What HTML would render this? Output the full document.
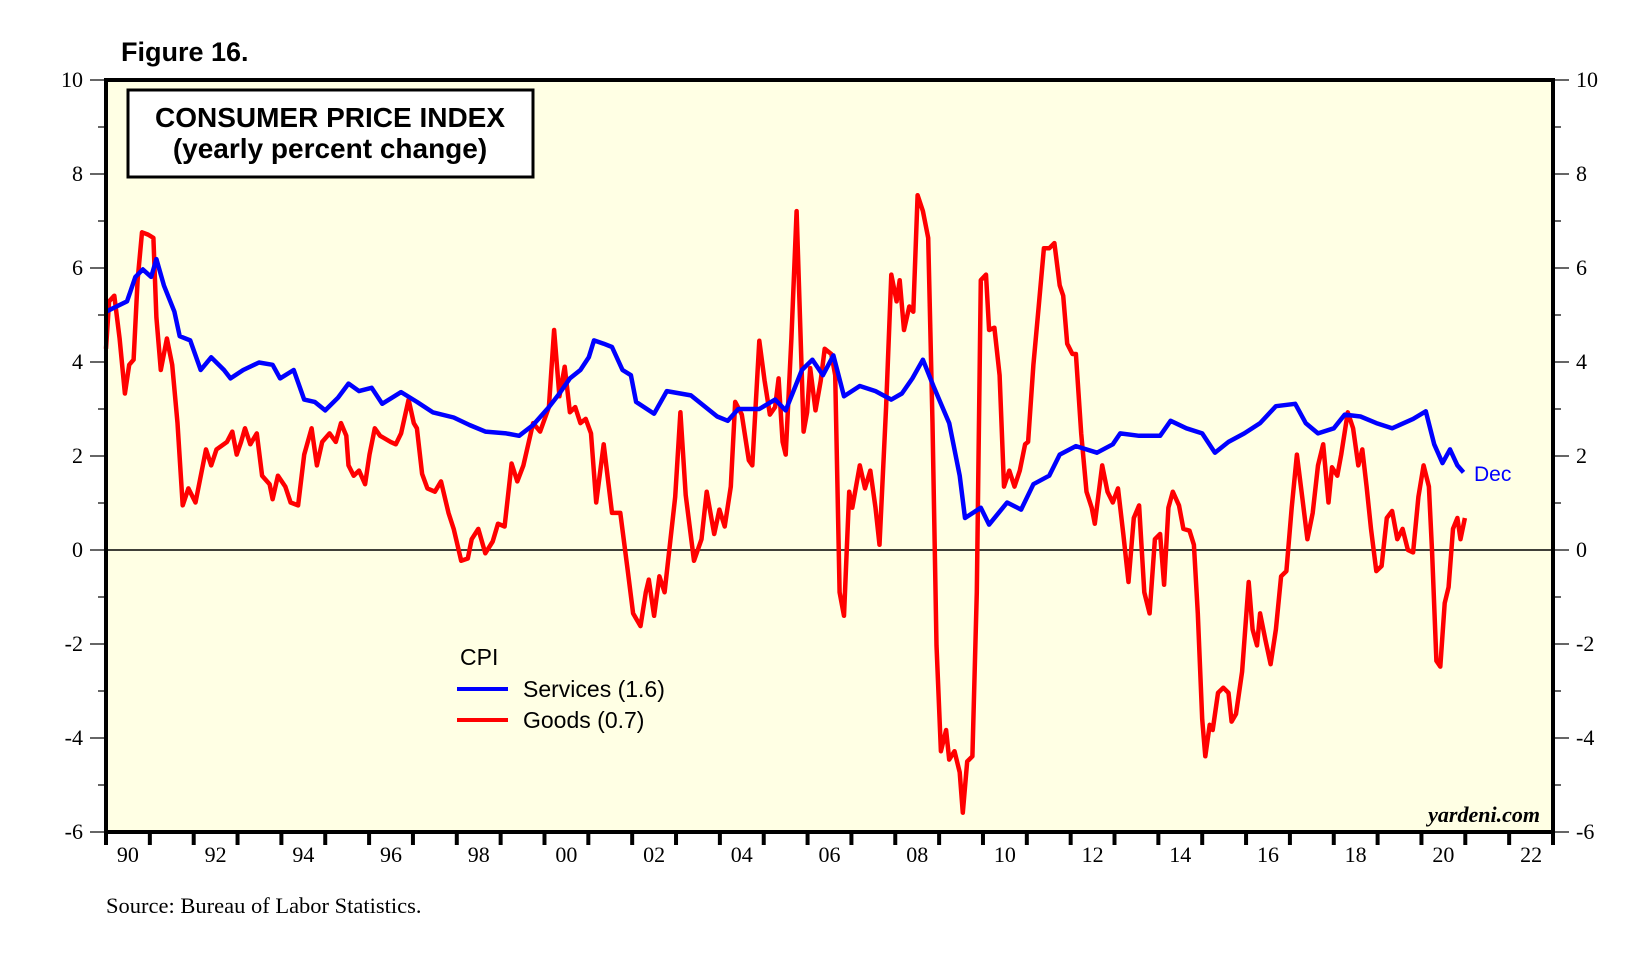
<!DOCTYPE html>
<html><head><meta charset="utf-8"><style>
body{margin:0;background:#fff;width:1648px;height:962px;overflow:hidden}
svg{display:block}
</style></head><body>
<svg id="chart" width="1648" height="962" viewBox="0 0 1648 962" xmlns="http://www.w3.org/2000/svg">
<text x="121" y="61" font-family="Liberation Sans, sans-serif" font-weight="bold" font-size="27">Figure 16.</text>
<rect x="106" y="80" width="1447" height="752" fill="#FFFFE4"/>
<g id="grid"></g>
<g id="series"></g>
<rect x="106" y="80" width="1447" height="752" fill="none" stroke="#000" stroke-width="4"/>
<g id="axes"></g>
<rect x="128" y="90" width="405" height="87" fill="#fff" stroke="#000" stroke-width="3"/>
<text x="330" y="127" text-anchor="middle" font-family="Liberation Sans, sans-serif" font-weight="bold" font-size="28">CONSUMER PRICE INDEX</text>
<text x="330" y="158" text-anchor="middle" font-family="Liberation Sans, sans-serif" font-weight="bold" font-size="28">(yearly percent change)</text>
<g>
<text x="460" y="665" font-family="Liberation Sans, sans-serif" font-size="23">CPI</text>
<line x1="457" y1="689" x2="508" y2="689" stroke="#0000FF" stroke-width="4"/>
<text x="523" y="697" font-family="Liberation Sans, sans-serif" font-size="23">Services (1.6)</text>
<line x1="457" y1="720" x2="508" y2="720" stroke="#FF0000" stroke-width="4"/>
<text x="523" y="728" font-family="Liberation Sans, sans-serif" font-size="23">Goods (0.7)</text>
</g>
<text x="1474" y="481" fill="#0000FF" font-family="Liberation Sans, sans-serif" font-size="21">Dec</text>
<text x="1540" y="822" text-anchor="end" font-family="Liberation Serif, serif" font-style="italic" font-weight="bold" font-size="22">yardeni.com</text>
<text x="106" y="913" font-family="Liberation Serif, serif" font-size="22.5">Source: Bureau of Labor Statistics.</text>
</svg>
<script>
const servicesYears=[1990.00,1990.24,1990.48,1990.67,1990.84,1991.03,1991.15,1991.32,1991.56,1991.68,1991.92,1992.16,1992.40,1992.69,1992.84,1993.13,1993.49,1993.80,1993.97,1994.28,1994.52,1994.76,1995.00,1995.29,1995.53,1995.77,1996.06,1996.30,1996.73,1997.09,1997.45,1997.93,1998.29,1998.65,1999.13,1999.42,1999.74,2000.10,2000.34,2000.58,2000.82,2001.01,2001.13,2001.35,2001.54,2001.78,2001.97,2002.09,2002.50,2002.79,2003.34,2003.94,2004.18,2004.42,2004.90,2005.26,2005.50,2005.87,2006.11,2006.35,2006.59,2006.83,2007.19,2007.55,2007.91,2008.15,2008.39,2008.63,2008.87,2009.23,2009.47,2009.59,2009.95,2010.14,2010.55,2010.87,2011.15,2011.51,2011.75,2012.12,2012.60,2012.96,2013.13,2013.56,2014.04,2014.28,2014.64,2015.00,2015.29,2015.60,2015.96,2016.32,2016.68,2017.12,2017.36,2017.64,2018.00,2018.25,2018.61,2018.97,2019.33,2019.81,2020.10,2020.29,2020.48,2020.65,2020.82,2020.96];
const servicesValues=[5.07,5.18,5.29,5.81,5.97,5.81,6.19,5.63,5.07,4.55,4.46,3.83,4.10,3.83,3.65,3.83,3.99,3.94,3.65,3.83,3.20,3.15,2.97,3.24,3.54,3.38,3.45,3.11,3.36,3.15,2.93,2.82,2.66,2.52,2.48,2.43,2.66,3.04,3.33,3.65,3.83,4.10,4.46,4.39,4.32,3.83,3.72,3.15,2.90,3.38,3.29,2.84,2.75,3.00,3.00,3.20,2.97,3.83,4.05,3.72,4.14,3.27,3.49,3.38,3.20,3.33,3.65,4.05,3.49,2.70,1.58,0.68,0.90,0.54,1.01,0.86,1.40,1.58,2.03,2.21,2.07,2.25,2.48,2.43,2.43,2.75,2.59,2.48,2.07,2.30,2.48,2.70,3.06,3.11,2.70,2.48,2.59,2.88,2.84,2.70,2.59,2.79,2.95,2.25,1.85,2.14,1.80,1.65];
const goodsYears=[1990.00,1990.07,1990.19,1990.31,1990.43,1990.53,1990.63,1990.72,1990.82,1990.96,1991.08,1991.15,1991.25,1991.39,1991.51,1991.63,1991.75,1991.88,1992.04,1992.28,1992.40,1992.52,1992.76,1992.88,1992.98,1993.08,1993.17,1993.29,1993.44,1993.56,1993.73,1993.80,1993.92,1994.09,1994.21,1994.38,1994.52,1994.69,1994.81,1994.93,1995.10,1995.24,1995.36,1995.48,1995.53,1995.65,1995.77,1995.91,1996.01,1996.13,1996.25,1996.49,1996.61,1996.73,1996.90,1997.02,1997.09,1997.21,1997.33,1997.50,1997.64,1997.81,1997.93,1998.10,1998.25,1998.34,1998.49,1998.65,1998.82,1998.94,1999.09,1999.25,1999.38,1999.52,1999.74,1999.90,2000.10,2000.22,2000.34,2000.46,2000.58,2000.70,2000.82,2000.94,2001.06,2001.18,2001.35,2001.54,2001.73,2001.90,2002.02,2002.19,2002.31,2002.38,2002.50,2002.62,2002.74,2002.98,2003.10,2003.22,2003.41,2003.58,2003.70,2003.87,2003.99,2004.11,2004.25,2004.35,2004.50,2004.66,2004.74,2004.90,2005.02,2005.14,2005.26,2005.34,2005.43,2005.50,2005.63,2005.75,2005.91,2005.99,2006.06,2006.18,2006.30,2006.39,2006.54,2006.63,2006.73,2006.83,2006.95,2007.02,2007.19,2007.31,2007.43,2007.55,2007.64,2007.79,2007.91,2008.03,2008.10,2008.20,2008.32,2008.41,2008.51,2008.63,2008.75,2008.85,2008.94,2009.04,2009.16,2009.23,2009.35,2009.47,2009.54,2009.64,2009.76,2009.86,2009.95,2010.07,2010.14,2010.26,2010.38,2010.48,2010.60,2010.72,2010.84,2010.96,2011.03,2011.15,2011.27,2011.39,2011.51,2011.63,2011.75,2011.83,2011.92,2012.04,2012.12,2012.24,2012.36,2012.48,2012.55,2012.72,2012.84,2012.96,2013.08,2013.20,2013.32,2013.44,2013.56,2013.68,2013.80,2013.92,2014.04,2014.13,2014.23,2014.33,2014.47,2014.57,2014.71,2014.81,2014.90,2015.00,2015.07,2015.17,2015.24,2015.36,2015.48,2015.60,2015.67,2015.77,2015.91,2016.06,2016.15,2016.25,2016.32,2016.44,2016.56,2016.68,2016.80,2016.92,2017.04,2017.16,2017.28,2017.40,2017.52,2017.64,2017.76,2017.88,2017.96,2018.08,2018.17,2018.32,2018.44,2018.56,2018.65,2018.75,2018.85,2018.97,2019.09,2019.21,2019.33,2019.45,2019.57,2019.69,2019.81,2019.93,2020.05,2020.17,2020.24,2020.34,2020.43,2020.53,2020.62,2020.72,2020.82,2020.89,2020.99];
const goodsValues=[4.28,5.29,5.41,4.50,3.33,3.94,4.05,5.74,6.76,6.71,6.64,4.95,3.83,4.50,3.94,2.70,0.95,1.31,1.01,2.14,1.80,2.14,2.30,2.52,2.03,2.30,2.59,2.25,2.48,1.58,1.40,1.08,1.58,1.35,1.01,0.95,2.03,2.59,1.80,2.30,2.48,2.30,2.70,2.43,1.80,1.58,1.69,1.40,2.03,2.59,2.43,2.30,2.25,2.48,3.20,2.70,2.59,1.62,1.31,1.24,1.46,0.79,0.45,-0.23,-0.18,0.23,0.45,-0.07,0.18,0.56,0.50,1.84,1.46,1.80,2.70,2.52,3.04,4.68,3.27,3.90,2.93,3.04,2.70,2.79,2.48,1.01,2.25,0.79,0.79,-0.45,-1.35,-1.62,-0.90,-0.63,-1.40,-0.56,-0.90,1.13,2.93,1.17,-0.23,0.23,1.24,0.34,0.86,0.50,1.35,3.15,2.88,1.91,1.80,4.45,3.60,2.88,3.04,3.65,2.30,2.03,4.50,7.21,2.52,2.93,3.87,2.97,3.60,4.28,4.17,3.72,-0.90,-1.40,1.24,0.90,1.80,1.31,1.69,0.90,0.11,3.04,5.86,5.29,5.74,4.68,5.18,5.07,7.55,7.21,6.64,2.70,-2.03,-4.28,-3.83,-4.46,-4.28,-4.73,-5.59,-4.50,-4.39,-0.90,5.74,5.86,4.68,4.73,3.72,1.35,1.69,1.35,1.69,2.25,2.30,3.94,5.18,6.42,6.42,6.53,5.63,5.41,4.39,4.17,4.17,2.48,1.24,0.90,0.56,1.80,1.24,1.01,1.31,0.34,-0.68,0.68,0.95,-0.90,-1.35,0.23,0.34,-0.74,0.90,1.24,0.95,0.45,0.41,0.11,-1.35,-3.60,-4.39,-3.72,-3.83,-3.04,-2.93,-3.04,-3.65,-3.49,-2.59,-0.68,-1.69,-2.03,-1.35,-1.91,-2.43,-1.69,-0.56,-0.45,0.90,2.03,1.13,0.23,0.79,1.80,2.25,1.01,1.76,1.58,2.03,2.93,2.59,1.80,2.14,1.35,0.45,-0.45,-0.34,0.68,0.83,0.23,0.45,0.00,-0.05,1.13,1.80,1.35,0.00,-2.36,-2.48,-1.13,-0.79,0.45,0.68,0.23,0.68];
const yTicks=[10,8,6,4,2,0,-2,-4,-6];
const xLabels=["90","92","94","96","98","00","02","04","06","08","10","12","14","16","18","20","22"];

const NS="http://www.w3.org/2000/svg";
const X0=106,X1=1553,Y0=80,Y1=832,YEAR0=1990,YEAR1=2023,VMAX=10,VMIN=-6;
function xScale(yr){return X0+(yr-YEAR0)/(YEAR1-YEAR0)*(X1-X0);}
function yScale(v){return Y0+(VMAX-v)/(VMAX-VMIN)*(Y1-Y0);}
function mk(tag,attrs,parent){const e=document.createElementNS(NS,tag);for(const k in attrs)e.setAttribute(k,attrs[k]);parent.appendChild(e);return e;}
const axes=document.getElementById('axes'),grid=document.getElementById('grid'),series=document.getElementById('series');

const zl=mk('line',{x1:X0,x2:X1,y1:yScale(0),y2:yScale(0),stroke:'#000','stroke-width':1.5},grid);



for(let v=VMIN;v<=VMAX;v++){
  const y=yScale(v),major=(v%2===0);
  const l=mk('line',{x1:X0-(major?16:8),x2:X0,y1:y,y2:y,stroke:'#000','stroke-width':1.2},axes);
  
  
  const r=mk('line',{x1:X1,x2:X1+(major?16:8),y1:y,y2:y,stroke:'#000','stroke-width':1.2},axes);
  
  
}
yTicks.forEach(v=>{
  const y=yScale(v)+7;
  const t=mk('text',{x:83,y:y,'text-anchor':'end','font-family':'Liberation Serif, serif','font-size':22},axes);
  t.textContent=String(v);
  
  
  const t2=mk('text',{x:1576,y:y,'font-family':'Liberation Serif, serif','font-size':22},axes);
  t2.textContent=String(v);
  
  
});
for(let yr=YEAR0;yr<=YEAR1;yr++){
  const x=xScale(yr);
  const l=mk('line',{x1:x,x2:x,y1:Y1,y2:Y1+13,stroke:'#000','stroke-width':4},axes);
  
  
}
xLabels.forEach((lab,i)=>{
  const t=mk('text',{x:xScale(YEAR0+2*i+0.5),y:862,'text-anchor':'middle','font-family':'Liberation Serif, serif','font-size':22},axes);
  t.textContent=lab;
  
  
});
function path(years,vals,color,name){
  const d=years.map((yr,i)=>(i?'L':'M')+xScale(yr).toFixed(1)+','+yScale(vals[i]).toFixed(1)).join('');
  const p=mk('path',{d:d,fill:'none',stroke:color,'stroke-width':4.5,'stroke-linejoin':'round'},series);
  
  
}
path(goodsYears,goodsValues,'#FF0000','goods-line');
path(servicesYears,servicesValues,'#0000FF','services-line');
</script>
</body></html>
